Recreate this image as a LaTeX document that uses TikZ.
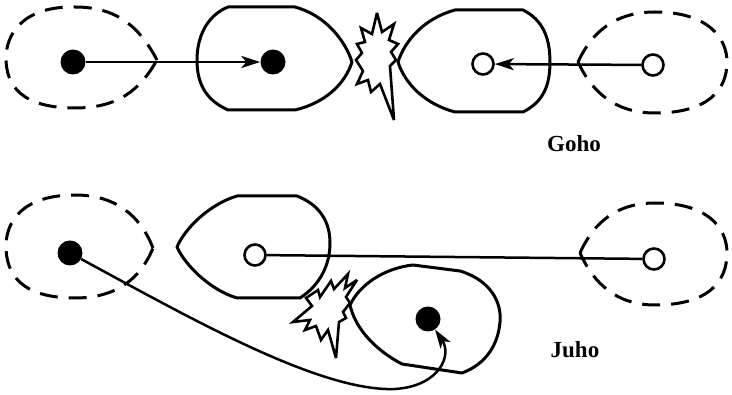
\documentclass[tikz,border=0pt]{standalone}
\usepackage{fontspec}
\setmainfont{Liberation Serif}
\usetikzlibrary{arrows.meta}
\begin{document}
\begin{tikzpicture}[x=1pt,y=-1pt,
  outline/.style={line width=3pt, line join=round},
  dashline/.style={outline, dash pattern=on 18pt off 11pt},
  fdot/.style={circle, fill=black, inner sep=0pt, minimum size=25pt},
  odot/.style={circle, draw=black, line width=2.6pt, fill=white, inner sep=0pt, minimum size=21pt},
  conn/.style={line width=2.5pt},
  arr/.style={conn, -{Stealth[length=19pt,width=12pt,inset=5pt]}},
  burst/.style={line width=2.6pt, line join=miter, miter limit=4},
  lbl/.style={font=\bfseries\fontsize{23}{25}\selectfont, inner sep=0pt}]
\useasboundingbox (0,0) rectangle (732,395);

% ---------------- top row (Goho) ----------------
% dashed shape 1
\draw[dashline] (157,60) .. controls (140,28) and (118,7) .. (75,7)
  .. controls (22,6) and (6,35) .. (6,58)
  .. controls (6,86) and (22,108) .. (75,108)
  .. controls (118,108) and (140,90) .. (157,60);
% solid shape 2
\draw[outline] (228,7) -- (295,7) .. controls (325,15) and (345,40) .. (352,62)
  .. controls (345,84) and (325,103) .. (295,110) -- (228,110)
  .. controls (206,100) and (197,84) .. (197,60)
  .. controls (197,38) and (206,16) .. (228,7) -- cycle;
% burst 1
\draw[burst] (377,13) -- (382,32) -- (394,24) -- (389,40) -- (398,44) -- (391,52)
  -- (396,60) -- (390,66) -- (394,120) -- (380,84) -- (371,92) -- (368,80)
  -- (357,84) -- (363,71) -- (356,60) -- (362,53) -- (357,44) -- (365,42)
  -- (361,28) -- (372,34) -- cycle;
% solid shape 3
\draw[outline] (523,10) -- (455,10) .. controls (425,18) and (405,40) .. (398,62)
  .. controls (405,84) and (425,104) .. (455,112) -- (523,112)
  .. controls (543,102) and (550,86) .. (550,62)
  .. controls (550,38) and (543,20) .. (523,10) -- cycle;
% dashed shape 4
\draw[dashline] (578,62) .. controls (592,32) and (615,12) .. (655,12)
  .. controls (708,12) and (727,38) .. (727,62)
  .. controls (727,90) and (708,113) .. (655,113)
  .. controls (615,113) and (592,92) .. (578,62);

\node[fdot] (d1) at (73,62) {};
\node[fdot] (d2) at (273,62) {};
\node[odot] (c3) at (483,64) {};
\node[odot] (c4) at (653,65) {};
\draw[arr] (d1) -- (d2);
\draw[arr] (c4) -- (c3);
\node[lbl] (goho) at (574,144) {Goho};

% ---------------- bottom row (Juho) ----------------
% dashed shape 5
\draw[dashline] (153,248) .. controls (140,215) and (115,195) .. (75,195)
  .. controls (22,195) and (6,222) .. (6,246)
  .. controls (6,275) and (22,298) .. (75,298)
  .. controls (115,298) and (140,280) .. (153,248);
% solid shape 6
\draw[outline] (237,196) -- (297,196) .. controls (320,205) and (330,222) .. (330,243)
  .. controls (330,265) and (320,285) .. (300,298) -- (237,298)
  .. controls (210,290) and (185,265) .. (177,247)
  .. controls (185,228) and (210,204) .. (237,196) -- cycle;
% dashed shape 8
\draw[dashline] (580,253) .. controls (594,222) and (617,203) .. (655,203)
  .. controls (708,203) and (727,228) .. (727,253)
  .. controls (727,282) and (708,305) .. (655,305)
  .. controls (617,305) and (594,284) .. (580,253);
% solid shape 7 (pushed away)
\draw[outline] (350,305) .. controls (360,284) and (385,268) .. (413,265) -- (460,271)
  .. controls (490,280) and (502,302) .. (500,322)
  .. controls (498,345) and (486,364) .. (462,373) -- (402,364)
  .. controls (375,350) and (355,328) .. (350,305) -- cycle;
% burst 2
\draw[burst] (293,322) -- (312,306) -- (306,298) -- (318,290) -- (320,297)
  -- (331,281) -- (334,289) -- (348,274) -- (345,288) -- (357,280) -- (346,297)
  -- (350,303) -- (343,312) -- (346,318) -- (339,322) -- (336,358) -- (328,330)
  -- (321,340) -- (316,326) -- (305,330) -- (310,320) -- cycle;

\node[fdot] (d5) at (70,253) {};
\node[odot] (c6) at (255,255) {};
\node[odot] (c8) at (654,259) {};
\node[fdot] (d7) at (428,319) {};
\coordinate (cb) at (395,389);
\draw[conn] (c6) -- (c8);
\draw[arr] (d5) .. controls (190,318) and (320,392) .. (cb)
  .. controls (440,386) and (452,355) .. (d7);
\node[lbl] (juho) at (575,350) {Juho};
\end{tikzpicture}
\end{document}
